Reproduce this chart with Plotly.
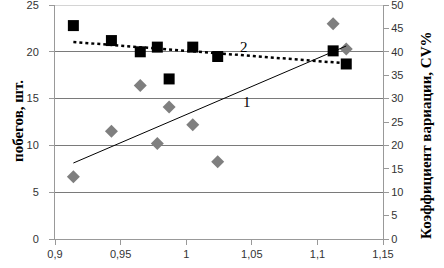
import numpy as np
import plotly.graph_objects as go

x_vals = [0.914, 0.943, 0.965, 0.978, 0.987, 1.005, 1.024, 1.112, 1.122]
shoots = [22.8, 21.2, 20.0, 20.5, 17.1, 20.5, 19.5, 20.1, 18.7]       # squares, left axis
cv_pct = [13.3, 23.0, 32.8, 20.4, 28.2, 24.4, 16.5, 46.0, 40.6]       # diamonds, right axis
x_ticks = [0.9, 0.95, 1.0, 1.05, 1.1, 1.15]
x_ticktext = ["0,9", "0,95", "1", "1,05", "1,1", "1,15"]
y_left_ticks = [0, 5, 10, 15, 20, 25]
y_right_ticks = [0, 5, 10, 15, 20, 25, 30, 35, 40, 45, 50]

xs = np.array(x_vals)
xl = np.array([min(x_vals), max(x_vals)])
c1 = np.polyfit(xs, np.array(cv_pct), 1)
c2 = np.polyfit(xs, np.array(shoots), 1)

fig = go.Figure()
fig.add_trace(go.Scatter(x=x_vals, y=cv_pct, mode="markers", yaxis="y2",
                         marker=dict(symbol="diamond", size=10, color="#7f7f7f")))
fig.add_trace(go.Scatter(x=xl, y=np.polyval(c1, xl), mode="lines", yaxis="y2",
                         line=dict(color="black", width=1)))
fig.add_trace(go.Scatter(x=x_vals, y=shoots, mode="markers",
                         marker=dict(symbol="square", size=11, color="black")))
fig.add_trace(go.Scatter(x=xl, y=np.polyval(c2, xl), mode="lines",
                         line=dict(color="black", width=2.5, dash="dot")))

tickfont = dict(family="Liberation Sans", size=11, color="#333")
fig.update_layout(
    width=444, height=268, showlegend=False,
    margin=dict(l=55, r=61, t=5, b=29),
    plot_bgcolor="white", paper_bgcolor="white",
    xaxis=dict(range=[0.9, 1.15], tickvals=x_ticks, ticktext=x_ticktext, automargin=False,
               showgrid=False, zeroline=False, showline=True, linecolor="#999",
               ticks="outside", ticklen=5, tickcolor="#999", tickfont=tickfont),
    yaxis=dict(range=[0, 25], tickvals=y_left_ticks, showgrid=True, gridcolor="#7a7a7a",
               gridwidth=1, zeroline=False, showline=True, linecolor="#999", automargin=False,
               ticks="outside", ticklen=5, tickcolor="#999", tickfont=tickfont,
               ticklabelstandoff=8, ticklabeloverflow="allow"),
    yaxis2=dict(range=[0, 50], tickvals=y_right_ticks, overlaying="y", side="right",
                showgrid=False, zeroline=False, showline=True, linecolor="#999", automargin=False,
                ticks="outside", ticklen=5, tickcolor="#999", tickfont=tickfont,
                ticklabeloverflow="allow"),
    shapes=[dict(type="line", xref="paper", yref="y", x0=0, x1=1, y0=25, y1=25,
                 line=dict(color="#aaaaaa", width=1))],
    annotations=[
        dict(text="<b>побегов, шт.</b>", xref="paper", yref="paper",
             x=(8 - 55) / 328, y=(239 - 121) / 234, textangle=-90, showarrow=False,
             font=dict(family="Liberation Serif", size=15, color="black")),
        dict(text="<b>Коэффициент вариации, CV%</b>", xref="paper", yref="paper",
             x=(436 - 55) / 328, y=(239 - 135) / 234, textangle=-90, showarrow=False,
             font=dict(family="Liberation Serif", size=15, color="black")),
        dict(text="1", x=1.046, y=14.6, xref="x", yref="y", showarrow=False,
             font=dict(family="Liberation Serif", size=15, color="black")),
        dict(text="2", x=1.044, y=20.5, xref="x", yref="y", showarrow=False,
             font=dict(family="Liberation Serif", size=15, color="black")),
    ],
)
fig.write_html("out.html", config={"displayModeBar": False},
               post_script="document.body.style.margin='0';document.body.style.overflow='hidden';")
